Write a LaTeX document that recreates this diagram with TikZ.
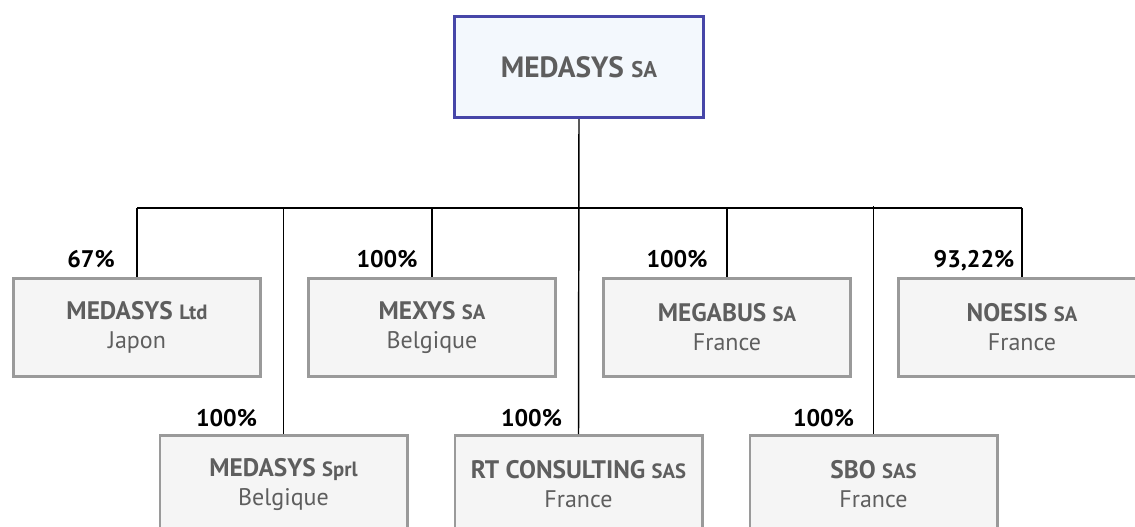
\documentclass[tikz,border=0pt]{standalone}
\usepackage{fontspec}
\setmainfont{PT Sans}
\usetikzlibrary{positioning}
\definecolor{bordmere}{HTML}{4646A8}
\definecolor{fondmere}{HTML}{F3F8FD}
\definecolor{bordsoc}{HTML}{9A9A9A}
\definecolor{fondsoc}{HTML}{F5F5F5}
\definecolor{texte}{HTML}{5E5E5E}
\newcommand{\societe}[3]% nom, forme, pays
{{\bfseries\fontsize{19}{21.75}\selectfont #1 {\fontsize{15.5}{16}\selectfont #2}}\\#3}
\tikzset{
  mere/.style={draw=bordmere, line width=2.2pt, fill=fondmere, text=texte,
    minimum width=186.5pt, minimum height=76pt,
    font=\fontsize{22}{24}\selectfont\bfseries},
  filiale/.style={draw=bordsoc, line width=2pt, fill=fondsoc, text=texte,
    minimum width=185.5pt, minimum height=73.5pt, align=center,
    font=\fontsize{18}{21.75}\selectfont},
  part/.style={anchor=base, font=\fontsize{18}{20}\selectfont\bfseries},
  lien/.style={line width=1.1pt}
}

\begin{document}
\begin{tikzpicture}[x=0.75pt,y=-0.75pt]
  \useasboundingbox (0,0) rectangle (1135,527);
  \node[mere] (medasys) at (579,67) {MEDASYS {\fontsize{17}{18}\selectfont SA}};
  % premier rang
  \node[filiale] (ltd) at (137,327.5) {\societe{MEDASYS}{Ltd}{Japon}};
  \node[filiale, right=33.75pt of ltd] (mexys) {\societe{MEXYS}{SA}{Belgique}};
  \node[filiale, right=33.75pt of mexys] (megabus) {\societe{MEGABUS}{SA}{France}};
  \node[filiale, right=33.75pt of megabus] (noesis) {\societe{NOESIS}{SA}{France}};
  % second rang
  \node[filiale] (sprl) at (283.5,484.5) {\societe{MEDASYS}{Sprl}{Belgique}};
  \node[filiale, right=33.75pt of sprl] (rt) {\societe{RT CONSULTING}{SAS}{France}};
  \node[filiale, right=33.75pt of rt] (sbo) {\societe{SBO}{SAS}{France}};
  % participations
  \node[part] (p67) at ([shift={(79,-10)}]ltd.north west) {67\%};
  \node[part] (pmexys) at ([shift={(80,-10)}]mexys.north west) {100\%};
  \node[part] (pmegabus) at ([shift={(75,-10)}]megabus.north west) {100\%};
  \node[part] (pnoesis) at ([shift={(77,-10)}]noesis.north west) {93,22\%};
  \node[part] (psprl) at ([shift={(68,-8)}]sprl.north west) {100\%};
  \node[part] (prt) at ([shift={(78,-8)}]rt.north west) {100\%};
  \node[part] (psbo) at ([shift={(75,-8)}]sbo.north west) {100\%};
  % liaisons
  \coordinate (barre) at (579,208);
  \draw[lien] (ltd.north |- barre) -- (noesis.north |- barre);
  \draw[lien] (medasys.south) -- (rt.north);
  \draw[lien] (ltd.north) -- (ltd.north |- barre);
  \draw[lien] (mexys.north) -- (mexys.north |- barre);
  \draw[lien] (megabus.north) -- (megabus.north |- barre);
  \draw[lien] (noesis.north) -- (noesis.north |- barre);
  \draw[lien] (sprl.north) -- (sprl.north |- barre);
  \draw[lien] (sbo.north) -- ([yshift=1.5pt]sbo.north |- barre);
\end{tikzpicture}
\end{document}
